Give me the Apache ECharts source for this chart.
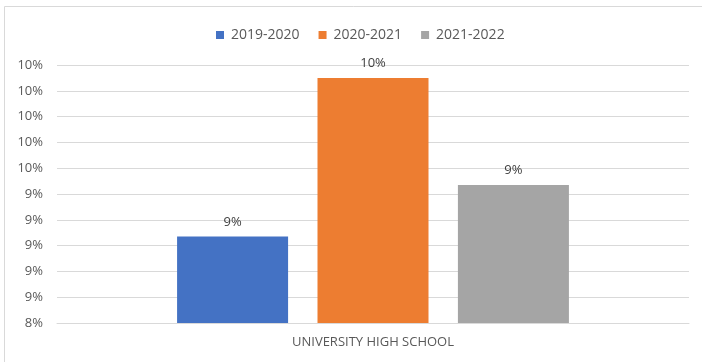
<!DOCTYPE html>
<html><head><meta charset="utf-8">
<script src="https://cdn.jsdelivr.net/npm/echarts@6/dist/echarts.min.js"></script>
<style>html,body{margin:0;padding:0;background:#fff}#c{width:702px;height:362px}</style>
</head><body><div id="c"></div>
<script>
const categories = ['UNIVERSITY HIGH SCHOOL'];
const seriesNames = ['2019-2020', '2020-2021', '2021-2022'];
const values2019 = [9.07];
const values2020 = [10.30];
const values2021 = [9.47];
const colors = ['#4472C4', '#ED7D31', '#A5A5A5'];
const allValues = [values2019, values2020, values2021];

const font = 'Open Sans, Liberation Sans, sans-serif';
const chart = echarts.init(document.getElementById('c'), null, {renderer: 'canvas'});
chart.setOption({
  animation: false,
  textStyle: {fontFamily: font},
  graphic: [
    {type: 'line', shape: {x1: 4.5, y1: 6.5, x2: 702, y2: 6.5}, style: {stroke: '#d9d9d9', lineWidth: 1}},
    {type: 'line', shape: {x1: 4.5, y1: 6.5, x2: 4.5, y2: 362}, style: {stroke: '#d9d9d9', lineWidth: 1}}
  ],
  legend: {
    top: 23, left: 211,
    itemWidth: 8, itemHeight: 8, itemGap: 19, icon: 'rect',
    textStyle: {color: '#595959', fontSize: 14, fontFamily: font, padding: [0, 0, 0, 2]},
    data: seriesNames
  },
  grid: {left: 57, right: 13, top: 65, bottom: 39},
  xAxis: {
    type: 'category', data: categories,
    axisLine: {lineStyle: {color: '#d9d9d9'}},
    axisTick: {show: false},
    axisLabel: {color: '#595959', fontSize: 13, margin: 13, fontFamily: font}
  },
  yAxis: {
    type: 'value', min: 8.4, max: 10.4, interval: 0.2,
    axisLine: {show: false}, axisTick: {show: false},
    splitLine: {lineStyle: {color: '#d9d9d9'}},
    axisLabel: {color: '#595959', fontSize: 13, margin: 14, fontFamily: font,
      formatter: v => Math.round(v) + '%'}
  },
  series: seriesNames.map((n, i) => ({
    name: n, type: 'bar', data: allValues[i],
    itemStyle: {color: colors[i]},
    barGap: '26.5%', barCategoryGap: '38%',
    label: {show: true, position: 'top', distance: 8, color: '#404040', fontSize: 13, fontFamily: font,
      formatter: p => Math.round(p.value) + '%'}
  }))
});
</script></body></html>
